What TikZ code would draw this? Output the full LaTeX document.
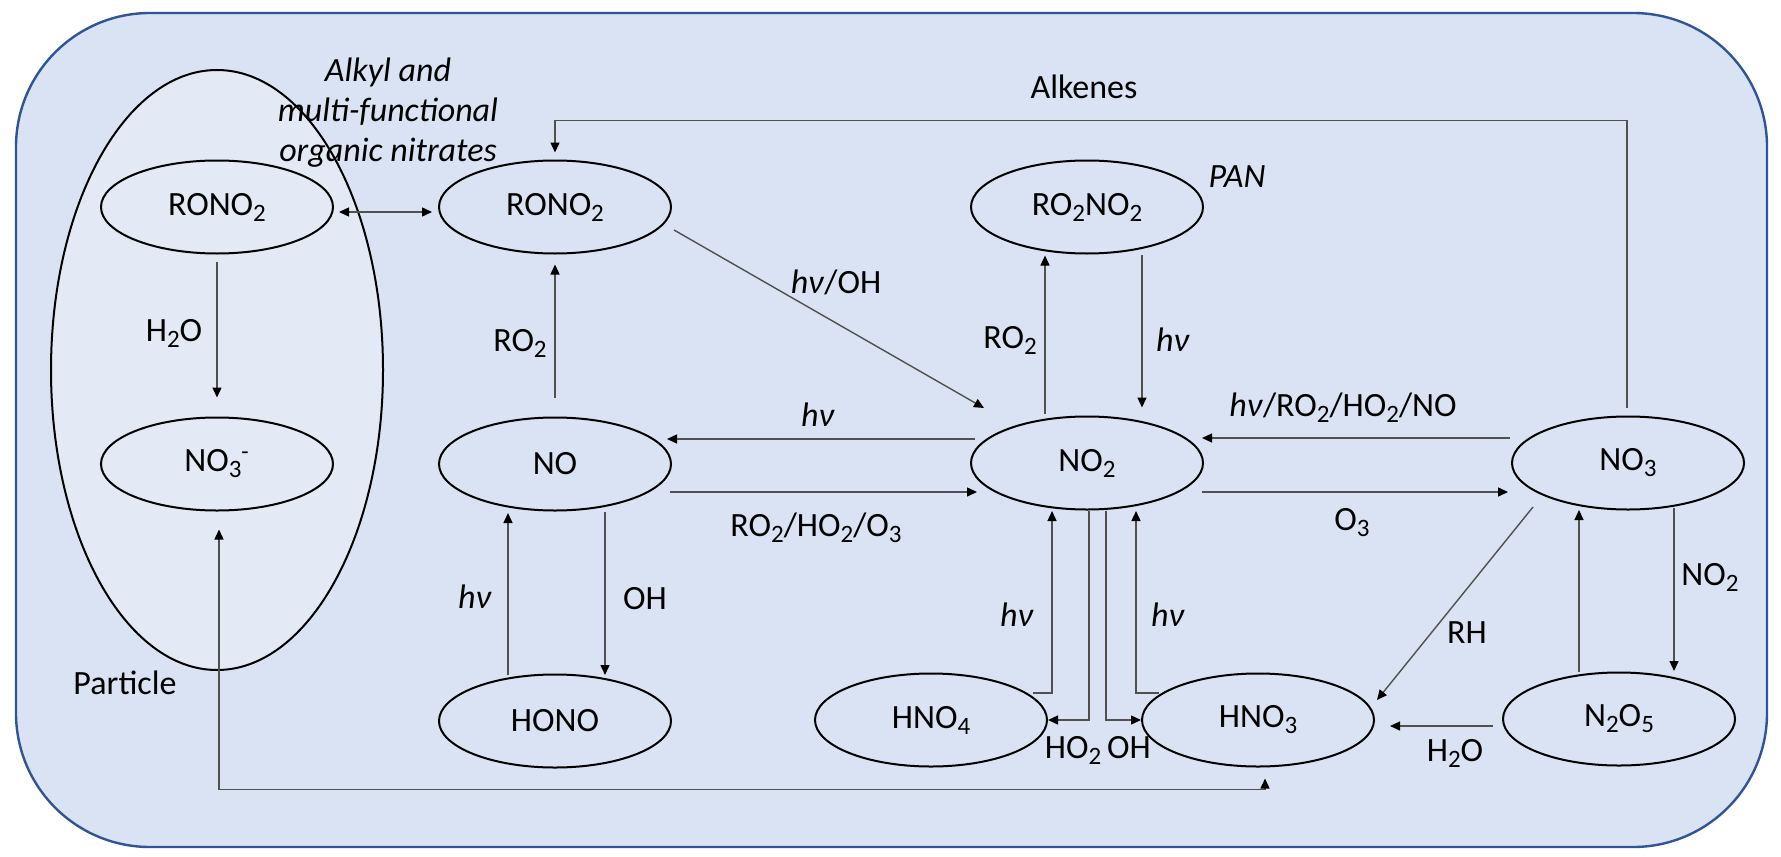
\documentclass[tikz,border=0pt]{standalone}
\usepackage{fontspec}
\setmainfont{Carlito}
\usetikzlibrary{shapes.geometric,arrows.meta,calc}
\definecolor{bgblue}{HTML}{DAE3F3}
\definecolor{partblue}{HTML}{E3E9F5}
\definecolor{frameblue}{HTML}{2F5597}
\definecolor{linegray}{HTML}{505050}
\newcommand{\sbs}[1]{\raisebox{-3pt}{\fontsize{12.5}{12.5}\selectfont #1}}
\newcommand{\spx}[1]{\textsuperscript{#1}}
\newcommand{\hnu}{\textit{hν}}
\begin{document}
\begin{tikzpicture}[x=0.5pt,y=-0.5pt,
  species/.style={ellipse,draw=black,line width=1pt,minimum width=116pt,minimum height=46.5pt,inner sep=0pt,font=\fontsize{17}{20}\selectfont},
  lbl/.style={inner sep=0pt,font=\fontsize{17}{20}\selectfont},
  ilbl/.style={inner sep=0pt,font=\fontsize{17}{20}\selectfont\itshape,align=center},
  arr/.style={draw=linegray,line width=0.7pt,-{Triangle[length=5pt,width=4.5pt,color=black]}},
  dblarr/.style={draw=linegray,line width=0.7pt,{Triangle[length=5pt,width=4.5pt,color=black]}-{Triangle[length=5pt,width=4.5pt,color=black]}}]
\useasboundingbox (0,0) rectangle (1781,856);
% frame
\draw[fill=bgblue,draw=frameblue,line width=1.2pt,rounded corners=67pt] (16,13) rectangle (1767,847);
% particle
\node[ellipse,draw=black,line width=1pt,fill=partblue,minimum width=166pt,minimum height=300pt,inner sep=0pt] (particle) at (217,370) {};
\node[lbl] (particlelbl) at (125,683) {Particle};
\node[ilbl] (alkyl) at (388,113) {Alkyl and\\multi-functional\\organic nitrates};
% species
\node[species] (prono) at (217,207) {RONO\sbs{2}};
\node[species] (rono) at (555,207) {RONO\sbs{2}};
\node[species] (nom) at (217,464) {NO\sbs{3}\spx{-}};
\node[species] (no) at (555,464) {NO};
\node[species] (hono) at (555,721) {HONO};
\node[species] (ro2no2) at (1087,207) {RO\sbs{2}NO\sbs{2}};
\node[species] (no2) at (1087,463) {NO\sbs{2}};
\node[species] (hno4) at (931,720) {HNO\sbs{4}};
\node[species] (hno3) at (1258,720) {HNO\sbs{3}};
\node[species] (no3) at (1628,463) {NO\sbs{3}};
\node[species] (n2o5) at (1619,719) {N\sbs{2}O\sbs{5}};
\node[ilbl] (pan) at (1237,177) {PAN};
% connectors
\draw[dblarr] ($(prono)+(122,5)$) -- ($(rono)+(-123,5)$);
\draw[arr] ($(prono.south)+(0,7)$) -- ($(nom.north)+(0,-19)$);
\node[lbl] (h2oa) at (174,333) {H\sbs{2}O};
\draw[arr] ($(no.north)+(0,-19)$) -- ($(rono.south)+(0,10)$);
\node[lbl] (ro2a) at (520,343) {RO\sbs{2}};
\draw[arr] ($(no3.north)+(-1,-8)$) |- ($(rono.north)+(0,-39)$) -- ($(rono.north)+(0,-7)$);
\node[lbl] (alkenes) at (1084,87) {Alkenes};
\draw[arr] ($(rono)+(119,23)$) -- ($(no2)+(-103,-55)$);
\node[lbl] (hnuoh) at (836,282) {\hnu/OH};
\draw[arr] ($(no2.north)+(-42,-2)$) -- ($(ro2no2.south)+(-42,1)$);
\node[lbl] (ro2b) at (1010,340) {RO\sbs{2}};
\draw[arr] ($(ro2no2.south)+(55,0)$) -- ($(no2.north)+(55,-8)$);
\node[lbl] (hnub) at (1173,340) {\hnu};
\draw[arr] ($(no2)+(-112,-24)$) -- ($(no)+(112,-25)$);
\node[lbl] (hnuc) at (818,415) {\hnu};
\draw[arr] ($(no)+(115,28)$) -- ($(no2)+(-110,29)$);
\node[lbl] (ro2ho2o3) at (816,528) {RO\sbs{2}/HO\sbs{2}/O\sbs{3}};
\draw[arr] ($(no3)+(-118,-25)$) -- ($(no2)+(115,-25)$);
\node[lbl] (hnuro2) at (1343,408) {\hnu/RO\sbs{2}/HO\sbs{2}/NO};
\draw[arr] ($(no2)+(115,29)$) -- ($(no3)+(-120,29)$);
\node[lbl] (o3) at (1352,523) {O\sbs{3}};
\draw[arr] ($(hono)+(-47,-46)$) -- ($(no)+(-47,49)$);
\node[lbl] (hnud) at (475,597) {\hnu};
\draw[arr] ($(no)+(50,48)$) -- ($(hono)+(50,-46)$);
\node[lbl] (oha) at (645,599) {OH};
\draw[arr] ($(hno4)+(102,-27)$) -| ($(no2)+(-35,48)$);
\node[lbl] (hnue) at (1017,615) {\hnu};
\draw[arr] ($(no2.south)+(2,0)$) |- (hno4.east);
\draw[arr] ($(no2.south)+(19,0)$) |- (hno3.west);
\node[lbl] (ho2) at (1073,750) {HO\sbs{2}};
\node[lbl] (ohb) at (1129,748) {OH};
\draw[arr] ($(hno3)+(-99,-27)$) -| ($(no2)+(49,48)$);
\node[lbl] (hnuf) at (1168,615) {\hnu};
\draw[arr] ($(no3)+(-95,44)$) -- ($(hno3)+(119,-20)$);
\node[lbl] (rh) at (1467,633) {RH};
\draw[arr] ($(n2o5)+(-40,-47)$) -- ($(no3)+(-49,47)$);
\draw[arr] ($(no3)+(46,45)$) -- ($(n2o5)+(55,-48)$);
\node[lbl] (no2lbl) at (1710,577) {NO\sbs{2}};
\draw[arr] ($(n2o5)+(-126,7)$) -- ($(hno3)+(132,6)$);
\node[lbl] (h2ob) at (1455,753) {H\sbs{2}O};
\draw[dblarr] ($(nom.south)+(2,18)$) |- ($(hno3.south)+(7,22)$) -- ($(hno3.south)+(7,11)$);
\end{tikzpicture}
\end{document}
